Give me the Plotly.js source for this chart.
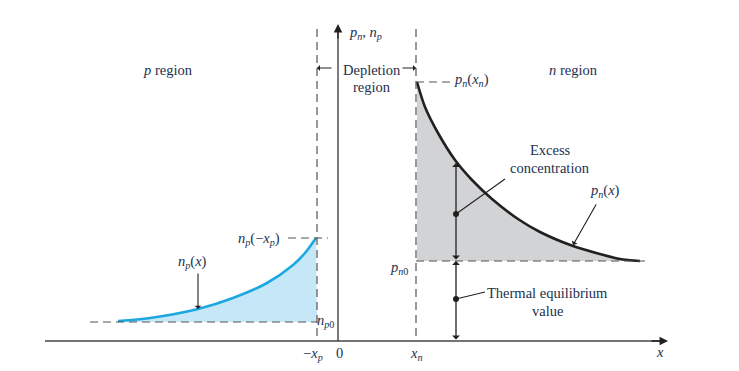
<!DOCTYPE html>
<html><head><meta charset="utf-8">
<script src="https://cdn.plot.ly/plotly-3.0.1.min.js"></script>
<style>html,body{margin:0;padding:0;background:#fff}#c{width:739px;height:371px}</style>
</head><body><div id="c"></div>
<script>
// Hole concentration p_n(x) in the n region (pixel-space readings)
const pnX = [417, 425, 438, 455, 472, 492, 518, 540, 573, 600, 620, 640];
const pnY = [82, 107, 133, 160, 180, 199, 219, 232, 246, 254, 259, 261];
const pn0 = 261;
// Electron concentration n_p(x) in the p region
const npX = [118, 150, 198, 233, 267, 293, 305, 316];
const npY = [321, 318, 309, 298, 283, 265, 253, 238];
const np0 = 322;
// Key positions on x axis
const xpPos = 317, zeroPos = 338, xnPos = 416;
const tickLabels = ['\u2212<i>x<sub>p</sub></i>', '0', '<i>x<sub>n</sub></i>'];
const axisY = 341;
// dots on double arrows
const dotX = [456, 456];
const dotY = [214, 299];

const ink = '#231f20', txt = '#22304e', dash = '#555';
const F = {family: 'Liberation Serif, Times New Roman, serif', size: 14.5, color: txt};

const grayPolyX = pnX.concat([pnX[pnX.length-1], pnX[0]]);
const grayPolyY = pnY.concat([pn0, pn0]);
const bluePolyX = npX.concat([xpPos, npX[0]]);
const bluePolyY = npY.concat([np0, np0]);

const traces = [
  {x: grayPolyX, y: grayPolyY, fill: 'toself', fillcolor: '#d2d3d5', line: {width: 0, shape: 'spline'}, mode: 'lines', hoverinfo: 'skip'},
  {x: bluePolyX, y: bluePolyY, fill: 'toself', fillcolor: '#c6e7f8', line: {width: 0}, mode: 'lines', hoverinfo: 'skip'},
  {x: pnX, y: pnY, mode: 'lines', line: {color: ink, width: 2.6, shape: 'spline', smoothing: 0.8}},
  {x: npX, y: npY, mode: 'lines', line: {color: '#1ba8e0', width: 2.6, shape: 'spline', smoothing: 0.8}},
  {x: dotX, y: dotY, mode: 'markers', marker: {color: ink, size: 6}}
];

const dl = {color: dash, width: 1.2, dash: '8px,5px'};
const shapes = [
  {type: 'line', x0: xpPos, x1: xpPos, y0: 29, y1: axisY, line: dl},
  {type: 'line', x0: xnPos, x1: xnPos, y0: 29, y1: axisY, line: dl},
  {type: 'line', x0: xnPos, x1: 645, y0: pn0, y1: pn0, line: dl},
  {type: 'line', x0: xnPos, x1: 452, y0: 82, y1: 82, line: dl},
  {type: 'line', x0: 90, x1: xpPos, y0: np0, y1: np0, line: dl},
  {type: 'line', x0: 288, x1: 328, y0: 238, y1: 238, line: dl},
  {type: 'line', x0: 45, x1: 660, y0: axisY, y1: axisY, line: {color: '#444', width: 1.3}},
  {type: 'line', x0: zeroPos, x1: zeroPos, y0: axisY, y1: 32, line: {color: '#333', width: 1.3}},
  {type: 'line', x0: 456, x1: 505, y0: 214, y1: 179, line: {color: ink, width: 1.1}},
  {type: 'line', x0: 456, x1: 485, y0: 299, y1: 292, line: {color: ink, width: 1.1}}
];

function arr(x, y, ax, ay, o) {
  return Object.assign({x: x, y: y, ax: ax, ay: ay, xref: 'x', yref: 'y', axref: 'x', ayref: 'y',
    text: '', showarrow: true, arrowhead: 2, arrowsize: 1, arrowwidth: 1.2, arrowcolor: ink}, o || {});
}
function t(x, y, s, o) {
  return Object.assign({x: x, y: y, xref: 'x', yref: 'y', text: s, showarrow: false, font: F}, o || {});
}
const ann = [
  arr(668, axisY, 650, axisY, {arrowhead: 2, arrowsize: 1.3, arrowwidth: 1.3}),
  arr(zeroPos, 24, zeroPos, 40, {arrowhead: 2, arrowsize: 1.3, arrowwidth: 1.3}),
  arr(xpPos, 68, 333, 68, {arrowhead: 1, arrowwidth: 1}),
  arr(xnPos, 68, 401, 68, {arrowhead: 1, arrowwidth: 1}),
  arr(456, 163, 456, pn0, {arrowside: 'end+start', arrowhead: 1, startarrowhead: 1, arrowwidth: 1.3}),
  arr(456, pn0, 456, axisY, {arrowside: 'end+start', arrowhead: 1, startarrowhead: 1, arrowwidth: 1.3}),
  arr(198, 309, 198, 272, {arrowhead: 1, arrowwidth: 1.1}),
  arr(573, 245, 597, 203, {arrowhead: 1, arrowwidth: 1.1}),
  t(168, 70, '<i>p</i> region'),
  t(573, 70, '<i>n</i> region'),
  t(372, 70, 'Depletion'),
  t(372, 87, 'region'),
  t(347, 33, '<i>p<sub>n</sub></i>, <i>n<sub>p</sub></i>', {xanchor: 'left'}),
  t(452, 80, '<i>p<sub>n</sub></i>(<i>x<sub>n</sub></i>)', {xanchor: 'left'}),
  t(550, 150, 'Excess'),
  t(550, 168, 'concentration'),
  t(605, 191, '<i>p<sub>n</sub></i>(<i>x</i>)'),
  t(410, 268, '<i>p<sub>n</sub></i><sub>0</sub>', {xanchor: 'right'}),
  t(547, 293, 'Thermal equilibrium'),
  t(547, 311, 'value'),
  t(192, 262, '<i>n<sub>p</sub></i>(<i>x</i>)'),
  t(282, 239, '<i>n<sub>p</sub></i>(\u2212<i>x<sub>p</sub></i>)', {xanchor: 'right'}),
  t(315, 321, '<i>n<sub>p</sub></i><sub>0</sub>', {xanchor: 'left'}),
  t(xpPos - 4, 354, tickLabels[0]),
  t(zeroPos + 1, 353, tickLabels[1]),
  t(xnPos, 354, tickLabels[2]),
  t(660, 352, '<i>x</i>')
];

Plotly.newPlot('c', traces, {
  width: 739, height: 371, margin: {l: 0, r: 0, t: 0, b: 0},
  paper_bgcolor: '#fff', plot_bgcolor: '#fff', showlegend: false,
  xaxis: {range: [0, 739], visible: false, fixedrange: true},
  yaxis: {range: [371, 0], visible: false, fixedrange: true},
  shapes: shapes, annotations: ann
}, {staticPlot: true});
</script></body></html>
